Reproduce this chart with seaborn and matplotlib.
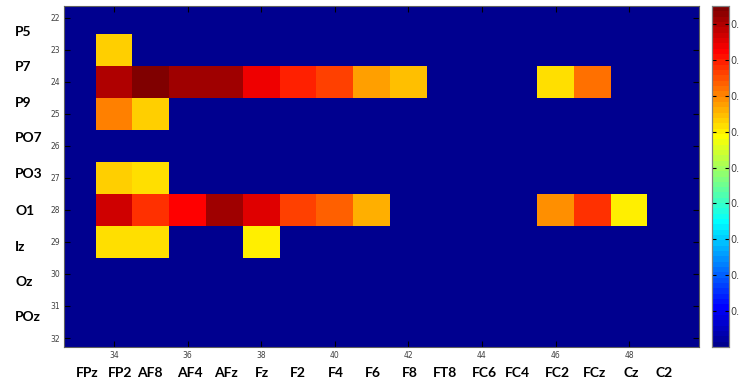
import numpy as np
import pandas as pd
import matplotlib
matplotlib.use("Agg")
import matplotlib.pyplot as plt
from matplotlib.colors import ListedColormap
import seaborn as sns

# ---- data ----
row_ids = list(range(22, 33))          # y index values
col_ids = list(range(33, 51))          # x index values
row_names = ["P5", "P7", "P9", "PO7", "PO3", "O1", "Iz", "Oz", "POz"]
col_names = ["FPz", "FP2", "AF8", "AF4", "AFz", "Fz", "F2", "F4", "F6", "F8",
             "FT8", "FC6", "FC4", "FC2", "FCz", "Cz", "C2"]

# non-zero cells: (row, col, value)
row23 = {34: 0.631}
row24 = {34: 0.898, 35: 0.945, 36: 0.913, 37: 0.913, 38: 0.839, 39: 0.794,
         40: 0.765, 41: 0.675, 42: 0.646, 46: 0.616, 47: 0.720}
row25 = {34: 0.705, 35: 0.631}
row27 = {34: 0.631, 35: 0.616}
row28 = {34: 0.869, 35: 0.780, 36: 0.824, 37: 0.913, 38: 0.854, 39: 0.765,
         40: 0.735, 41: 0.661, 46: 0.690, 47: 0.780, 48: 0.601}
row29 = {34: 0.616, 35: 0.616, 38: 0.601}
cells = {23: row23, 24: row24, 25: row25, 27: row27, 28: row28, 29: row29}

xtick_vals = [34, 36, 38, 40, 42, 44, 46, 48]
ytick_vals = list(range(22, 33))
cbar_ticks = [0.1, 0.2, 0.3, 0.4, 0.5, 0.6, 0.7, 0.8, 0.9]
vmin, vmax = 0.0, 0.95

df = pd.DataFrame(0.0, index=row_ids, columns=col_ids)
for r, d in cells.items():
    for c, v in d.items():
        df.loc[r, c] = v

# MATLAB jet(64)
def matlab_jet(n=64):
    cols = []
    for i in range(1, n + 1):
        if i <= 8:
            cols.append((0, 0, 0.5 + 0.0625 * i))
        elif i <= 24:
            cols.append((0, 0.0625 * (i - 8), 1))
        elif i <= 40:
            cols.append((0.0625 * (i - 24), 1, 1 - 0.0625 * (i - 24)))
        elif i <= 56:
            cols.append((1, 1 - 0.0625 * (i - 40), 0))
        else:
            cols.append((1 - 0.0625 * (i - 56), 0, 0))
    return ListedColormap(np.clip(np.array(cols), 0, 1))

cmap = matlab_jet()

W, H = 739, 383
fig = plt.figure(figsize=(W / 100, H / 100), dpi=100)
ax = fig.add_axes([64 / W, 1 - 347 / H, (699 - 64) / W, (347 - 6) / H])
cax = fig.add_axes([712 / W, 1 - 347 / H, 17 / W, (347 - 6) / H])

sns.heatmap(df, ax=ax, cmap=cmap, vmin=vmin, vmax=vmax, cbar=True, cbar_ax=cax,
            xticklabels=False, yticklabels=False)

x0 = col_ids[0] - 0.5
y0 = row_ids[0] - 0.5
ax.set_xlim(32.64 - x0, 49.9 - x0)
ax.set_ylim(32.28 - y0, 21.64 - y0)
ax.set_xticks([v - x0 for v in xtick_vals])
ax.set_xticklabels([str(v) for v in xtick_vals])
ax.set_yticks([v - y0 for v in ytick_vals])
ax.set_yticklabels([str(v) for v in ytick_vals], rotation=0)
ax.set_xlabel("")
ax.set_ylabel("")
ax.tick_params(direction="in", length=4, width=0.8, color="black",
               top=True, right=True, labelsize=5.5, labelcolor="#404040", pad=3)
for s in ax.spines.values():
    s.set_visible(True)
    s.set_color("#606060")
    s.set_linewidth(0.8)

cax.set_yticks(cbar_ticks)
cax.set_yticklabels([f"{t:.1f}" for t in cbar_ticks])
cax.tick_params(direction="in", length=3, width=0.8, left=True, right=True,
                labelsize=7, labelcolor="#404040", pad=1)
for s in cax.spines.values():
    s.set_visible(True)
    s.set_color("#808080")
    s.set_linewidth(0.8)

# bold electrode labels
left_y = [31.7, 66.7, 102.7, 138, 174, 210.7, 246.7, 281.7, 317.3]
for name, yp in zip(row_names, left_y):
    fig.text(15 / W, 1 - yp / H, name, ha="left", va="center",
             fontsize=10, fontweight="bold", family=["Lato", "DejaVu Sans"])
bottom_x = [87, 120, 150, 190, 226, 262, 298, 336, 373, 410,
            445, 484, 517, 557, 595, 631, 664]
for name, xp in zip(col_names, bottom_x):
    fig.text(xp / W, 1 - 373 / H, name, ha="center", va="center",
             fontsize=10, fontweight="bold", family=["Lato", "DejaVu Sans"])

fig.savefig("out.png", dpi=100)
